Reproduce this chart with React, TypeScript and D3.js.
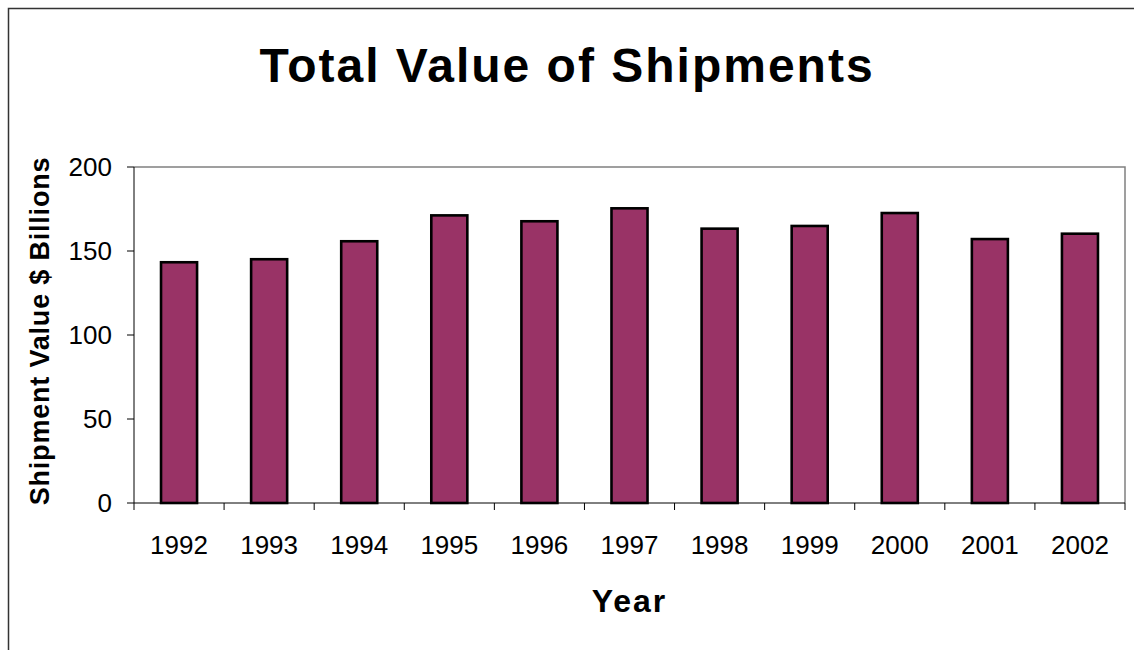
import React from "react";
import * as d3 from "d3";

const years = ["1992", "1993", "1994", "1995", "1996", "1997", "1998", "1999", "2000", "2001", "2002"];
const shipments = [143.3, 145.1, 155.8, 171.2, 167.7, 175.4, 163.3, 164.9, 172.6, 157.1, 160.3];
const yTicks = [0, 50, 100, 150, 200];

const W = 1134;
const H = 650;
const plot = { left: 134, right: 1125, top: 167, bottom: 503 };
const font = "'Liberation Sans', Arial, sans-serif";

export default function App() {
  const x = d3
    .scaleBand<string>()
    .domain(years)
    .range([plot.left, plot.right])
    .paddingInner(0.6)
    .paddingOuter(0.3);
  const band = d3.scaleBand<string>().domain(years).range([plot.left, plot.right]);
  const y = d3.scaleLinear().domain([0, 200]).range([plot.bottom, plot.top]);

  // category boundaries for the x ticks
  const boundaries = years.map((yr) => band(yr)!).concat([plot.right]);

  return (
    <svg
      width={W}
      height={H}
      style={{ position: "absolute", left: 0, top: 0, background: "#fff" }}
      fontFamily={font}
    >
      {/* outer chart border (runs off the right and bottom) */}
      <rect x={8.5} y={8.5} width={W + 10} height={H + 10} fill="none" stroke="#333" strokeWidth={1.5} />

      <text x={567} y={82} textAnchor="middle" fontSize={48} fontWeight="bold" letterSpacing={2}>
        Total Value of Shipments
      </text>

      {/* plot frame */}
      <path
        d={`M${plot.left},${plot.top}H${plot.right}V${plot.bottom}`}
        fill="none"
        stroke="#808080"
        strokeWidth={1.5}
      />

      {shipments.map((v, i) => (
        <rect
          key={years[i]}
          x={x(years[i])}
          y={y(v)}
          width={x.bandwidth()}
          height={plot.bottom - y(v)}
          fill="#993366"
          stroke="#000"
          strokeWidth={2.6}
        />
      ))}

      {/* y axis */}
      <line x1={plot.left} x2={plot.left} y1={plot.top} y2={plot.bottom} stroke="#000" strokeWidth={1} />
      {yTicks.map((t) => (
        <g key={t}>
          <line x1={plot.left - 7} x2={plot.left} y1={y(t)} y2={y(t)} stroke="#000" />
          <text x={112} y={y(t) + 9} textAnchor="end" fontSize={26}>
            {t}
          </text>
        </g>
      ))}

      {/* x axis */}
      <line x1={plot.left} x2={plot.right} y1={plot.bottom} y2={plot.bottom} stroke="#000" />
      {boundaries.map((b, i) => (
        <line key={i} x1={b} x2={b} y1={plot.bottom} y2={plot.bottom + 7} stroke="#000" />
      ))}
      {years.map((yr) => (
        <text key={yr} x={band(yr)! + band.bandwidth() / 2} y={554} textAnchor="middle" fontSize={26}>
          {yr}
        </text>
      ))}

      <text x={(plot.left + plot.right) / 2} y={612} textAnchor="middle" fontSize={32} fontWeight="bold" letterSpacing={2}>
        Year
      </text>
      <text
        transform={`translate(49,${(plot.top + plot.bottom) / 2 - 4}) rotate(-90)`}
        textAnchor="middle"
        fontSize={27}
        fontWeight="bold"
        letterSpacing={0.8}
      >
        Shipment Value $ Billions
      </text>
    </svg>
  );
}
